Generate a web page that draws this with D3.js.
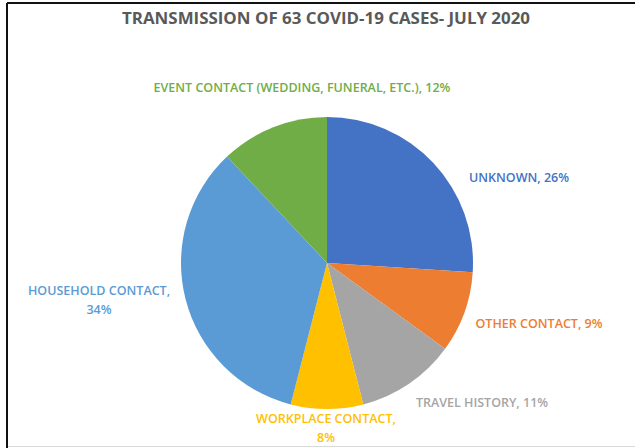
<!DOCTYPE html>
<html lang="en">
<head>
    <meta charset="UTF-8">
    <title>Transmission of 63 COVID-19 Cases - July 2020</title>
    <script src="https://d3js.org/d3.v7.min.js"></script>
    <style>
        body {
            margin: 0;
            padding: 0;
            background-color: #fff;
            font-family: "Open Sans", "Noto Sans", sans-serif;
        }
        svg {
            display: block;
        }
    </style>
</head>
<body>
    <svg width="635" height="448"></svg>
    <script>
        // Chart data (clockwise from 12 o'clock)
        const categories = ["UNKNOWN", "OTHER CONTACT", "TRAVEL HISTORY", "WORKPLACE CONTACT",
            "HOUSEHOLD CONTACT", "EVENT CONTACT (WEDDING, FUNERAL, ETC.)"];
        const shares = [26, 9, 11, 8, 34, 12];
        const colors = ["#4472C4", "#ED7D31", "#A5A5A5", "#FFC000", "#5B9BD5", "#70AD47"];
        const title = "TRANSMISSION OF 63 COVID-19 CASES- JULY 2020";

        // Label placement (label centre, as in the source chart; two-line labels break after the comma)
        const labelLayout = [
            { x: 519, y: 177, lines: 1 },
            { x: 539, y: 323, lines: 1 },
            { x: 482, y: 402, lines: 1 },
            { x: 326, y: 418, lines: 2 },
            { x: 99, y: 290, lines: 2 },
            { x: 302, y: 87, lines: 1 }
        ];

        const svg = d3.select("svg");
        const cx = 327, cy = 263, radius = 146;

        // Frame edges of the cropped chart box
        svg.append("line").attr("x1", 7).attr("x2", 635).attr("y1", 3).attr("y2", 3)
            .attr("stroke", "#111").attr("stroke-width", 2);
        svg.append("line").attr("x1", 7).attr("x2", 7).attr("y1", 3).attr("y2", 448)
            .attr("stroke", "#111").attr("stroke-width", 2);
        svg.append("line").attr("x1", 8).attr("x2", 635).attr("y1", 446.5).attr("y2", 446.5)
            .attr("stroke", "#d9d9d9").attr("stroke-width", 1);

        // Title
        svg.append("text")
            .attr("x", 326)
            .attr("y", 24)
            .attr("text-anchor", "middle")
            .attr("textLength", 408)
            .attr("lengthAdjust", "spacingAndGlyphs")
            .attr("fill", "#595959")
            .style("font-size", "16px")
            .style("font-weight", 700)
            .text(title);

        const data = categories.map((c, i) => ({ name: c, value: shares[i], color: colors[i], layout: labelLayout[i] }));

        const pie = d3.pie()
            .sort(null)
            .value(d => d.value);

        const arc = d3.arc()
            .innerRadius(0)
            .outerRadius(radius);

        const g = svg.append("g")
            .attr("transform", `translate(${cx},${cy})`);

        g.selectAll("path")
            .data(pie(data))
            .enter().append("path")
            .attr("d", arc)
            .attr("fill", d => d.data.color);

        // Data labels
        const labels = svg.selectAll(".label")
            .data(data)
            .enter().append("text")
            .attr("class", "label")
            .attr("text-anchor", "middle")
            .attr("fill", d => d.color)
            .style("font-size", "12.5px")
            .style("font-weight", 600);

        labels.each(function (d) {
            const t = d3.select(this);
            const pct = d.value + "%";
            if (d.layout.lines === 2) {
                t.append("tspan").attr("x", d.layout.x).attr("y", d.layout.y + 4.5).text(d.name + ",");
                t.append("tspan").attr("x", d.layout.x).attr("y", d.layout.y + 4.5 + (d.name.length > 17 ? 17 : 19)).text(pct);
            } else {
                t.append("tspan").attr("x", d.layout.x).attr("y", d.layout.y + 4.5).text(d.name + ", " + pct);
            }
        });
    </script>
</body>
</html>
